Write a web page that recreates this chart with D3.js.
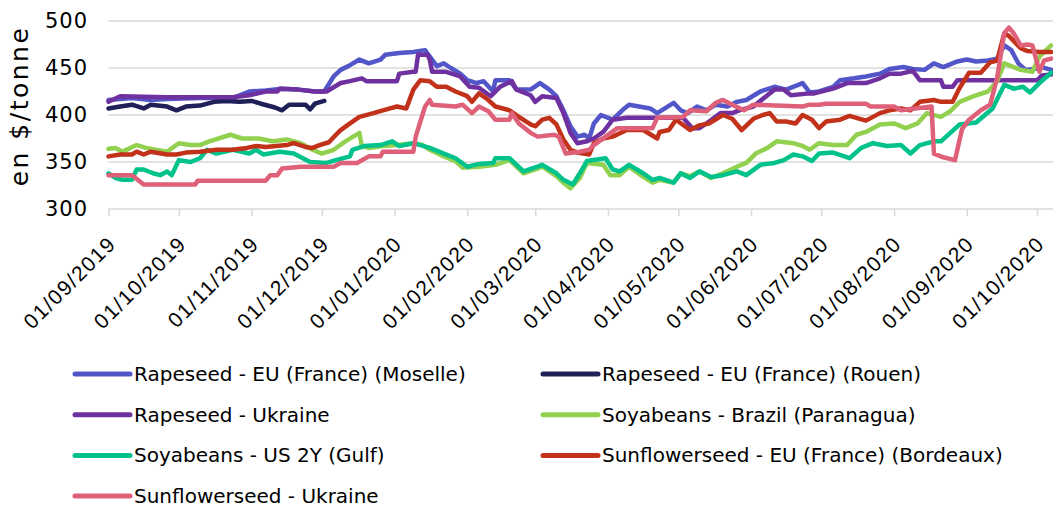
<!DOCTYPE html>
<html lang="fr">
<head>
  <meta charset="UTF-8">
  <title>Prix des oléagineux</title>
  <script src="https://d3js.org/d3.v7.min.js"></script>
  <style>
    body { margin: 0; background: #fff; }
    svg { display: block; font-family: "DejaVu Sans", sans-serif; }
    .grid line { stroke: #d9d9d9; stroke-width: 1.5px; }
    .serie { fill: none; stroke-width: 4.5px; stroke-linejoin: round; stroke-linecap: round; }
  </style>
</head>
<body>
  <div id="chart"></div>

  <script>
    // valeurs (en $/tonne)
    const moselle = [
      ["2019-09-01",416],["2019-09-11",418],["2019-09-19",416],["2019-09-26",417],["2019-10-10",418],
      ["2019-10-24",418],["2019-10-31",425],["2019-11-07",426],["2019-11-14",428],["2019-11-21",427],
      ["2019-11-28",425],["2019-12-02",425],["2019-12-06",441],["2019-12-09",448],["2019-12-13",453],
      ["2019-12-17",459],["2019-12-21",455],["2019-12-26",459],["2019-12-28",464],["2020-01-03",466],
      ["2020-01-09",467],["2020-01-14",469],["2020-01-16",462],["2020-01-19",452],["2020-01-22",455],
      ["2020-01-25",450],["2020-01-29",444],["2020-02-01",437],["2020-02-05",434],["2020-02-08",436],
      ["2020-02-12",425],["2020-02-13",437],["2020-02-19",437],["2020-02-22",427],["2020-02-28",427],
      ["2020-03-03",434],["2020-03-07",427],["2020-03-10",420],["2020-03-13",405],["2020-03-16",388],
      ["2020-03-19",377],["2020-03-22",379],["2020-03-24",375],["2020-03-26",391],["2020-03-29",400],
      ["2020-04-03",395],["2020-04-08",407],["2020-04-10",411],["2020-04-19",407],["2020-04-22",402],
      ["2020-04-29",413],["2020-05-02",405],["2020-05-05",402],["2020-05-09",409],["2020-05-13",405],
      ["2020-05-17",411],["2020-05-22",409],["2020-05-26",414],["2020-05-30",416],["2020-06-05",425],
      ["2020-06-11",430],["2020-06-16",427],["2020-06-23",434],["2020-06-26",424],["2020-06-30",425],
      ["2020-07-06",430],["2020-07-09",437],["2020-07-15",439],["2020-07-20",441],["2020-07-26",444],
      ["2020-07-30",449],["2020-08-05",451],["2020-08-09",449],["2020-08-14",448],["2020-08-18",455],
      ["2020-08-22",451],["2020-08-28",457],["2020-09-01",459],["2020-09-05",457],["2020-09-10",458],
      ["2020-09-14",460],["2020-09-17",474],["2020-09-20",469],["2020-09-23",455],["2020-09-26",448],
      ["2020-09-30",449],["2020-10-03",451],["2020-10-07",448]
    ];
    const rouen = [
      ["2019-09-01",407],["2019-09-06",409],["2019-09-11",411],["2019-09-16",407],["2019-09-19",411],
      ["2019-09-26",409],["2019-09-30",405],["2019-10-04",409],["2019-10-10",410],["2019-10-16",414],
      ["2019-10-21",415],["2019-10-27",414],["2019-11-01",415],["2019-11-05",412],["2019-11-11",408],
      ["2019-11-14",405],["2019-11-17",411],["2019-11-24",411],["2019-11-26",406],["2019-11-28",412],
      ["2019-12-02",415]
    ];
    const rapeUkraine = [
      ["2019-09-01",414],["2019-09-06",420],["2019-09-26",419],["2019-10-24",419],["2019-10-31",421],
      ["2019-11-07",425],["2019-11-12",425],["2019-11-13",428],["2019-11-21",427],["2019-11-28",425],
      ["2019-12-03",425],["2019-12-09",434],["2019-12-13",436],["2019-12-18",439],["2019-12-20",436],
      ["2020-01-02",436],["2020-01-03",444],["2020-01-09",446],["2020-01-10",446],["2020-01-11",464],
      ["2020-01-15",464],["2020-01-16",459],["2020-01-17",446],["2020-01-23",446],["2020-01-29",441],
      ["2020-02-02",430],["2020-02-06",429],["2020-02-11",420],["2020-02-15",430],["2020-02-20",436],
      ["2020-02-22",427],["2020-02-28",421],["2020-03-01",414],["2020-03-04",420],["2020-03-10",418],
      ["2020-03-13",402],["2020-03-16",381],["2020-03-19",370],["2020-03-23",372],["2020-03-26",375],
      ["2020-03-30",382],["2020-04-03",395],["2020-04-09",397],["2020-05-03",397],["2020-05-07",386],
      ["2020-05-10",386],["2020-05-13",391],["2020-05-19",402],["2020-05-24",402],["2020-05-27",405],
      ["2020-06-02",409],["2020-06-08",421],["2020-06-11",427],["2020-06-15",427],["2020-06-18",421],
      ["2020-06-26",423],["2020-06-28",423],["2020-07-06",428],["2020-07-12",434],["2020-07-20",434],
      ["2020-07-26",439],["2020-07-30",444],["2020-08-04",444],["2020-08-09",447],["2020-08-12",437],
      ["2020-08-21",437],["2020-08-22",430],["2020-08-26",430],["2020-08-28",437],["2020-10-01",437],
      ["2020-10-03",442],["2020-10-07",443]
    ];
    const soyBrazil = [
      ["2019-09-01",364],["2019-09-04",365],["2019-09-07",361],["2019-09-13",368],["2019-09-17",365],
      ["2019-09-21",363],["2019-09-26",361],["2019-10-01",370],["2019-10-06",368],["2019-10-10",368],
      ["2019-10-14",372],["2019-10-23",379],["2019-10-28",375],["2019-11-04",375],["2019-11-10",372],
      ["2019-11-16",374],["2019-11-22",370],["2019-11-27",363],["2019-12-01",359],["2019-12-06",363],
      ["2019-12-11",372],["2019-12-17",381],["2019-12-18",367],["2019-12-21",365],["2019-12-27",367],
      ["2020-01-02",368],["2020-01-09",370],["2020-01-13",368],["2020-01-16",363],["2020-01-22",356],
      ["2020-01-27",351],["2020-01-30",344],["2020-02-06",345],["2020-02-13",347],["2020-02-19",352],
      ["2020-02-25",338],["2020-03-02",343],["2020-03-04",345],["2020-03-10",335],["2020-03-13",328],
      ["2020-03-16",322],["2020-03-20",333],["2020-03-23",349],["2020-03-30",347],["2020-04-02",336],
      ["2020-04-06",336],["2020-04-10",345],["2020-04-15",336],["2020-04-20",328],["2020-04-23",331],
      ["2020-04-29",328],["2020-05-02",338],["2020-05-06",335],["2020-05-10",340],["2020-05-15",333],
      ["2020-05-20",338],["2020-05-26",345],["2020-05-30",349],["2020-06-03",359],["2020-06-08",365],
      ["2020-06-12",372],["2020-06-19",370],["2020-06-23",367],["2020-06-26",363],["2020-06-30",370],
      ["2020-07-06",368],["2020-07-12",368],["2020-07-16",379],["2020-07-20",382],["2020-07-26",390],
      ["2020-08-01",391],["2020-08-06",386],["2020-08-11",391],["2020-08-15",402],["2020-08-21",398],
      ["2020-08-25",404],["2020-08-29",414],["2020-09-04",420],["2020-09-10",425],["2020-09-14",436],
      ["2020-09-17",455],["2020-09-24",448],["2020-09-29",446],["2020-10-02",462],["2020-10-07",474]
    ];
    const soyUS = [
      ["2019-09-01",338],["2019-09-04",333],["2019-09-07",331],["2019-09-11",331],["2019-09-13",342],
      ["2019-09-16",342],["2019-09-20",338],["2019-09-23",336],["2019-09-26",340],["2019-09-28",336],
      ["2019-10-01",352],["2019-10-06",350],["2019-10-10",354],["2019-10-13",363],["2019-10-17",359],
      ["2019-10-24",363],["2019-10-31",359],["2019-11-03",363],["2019-11-06",358],["2019-11-13",361],
      ["2019-11-19",359],["2019-11-26",350],["2019-12-03",349],["2019-12-07",352],["2019-12-13",356],
      ["2019-12-14",363],["2019-12-19",367],["2019-12-26",368],["2019-12-31",372],["2020-01-03",367],
      ["2020-01-09",370],["2020-01-12",368],["2020-01-16",365],["2020-01-22",359],["2020-01-27",354],
      ["2020-02-01",345],["2020-02-06",348],["2020-02-12",349],["2020-02-13",354],["2020-02-19",354],
      ["2020-02-25",340],["2020-03-02",345],["2020-03-04",347],["2020-03-10",338],["2020-03-13",331],
      ["2020-03-17",326],["2020-03-20",338],["2020-03-23",351],["2020-03-31",354],["2020-04-03",342],
      ["2020-04-06",340],["2020-04-10",347],["2020-04-16",338],["2020-04-20",331],["2020-04-23",333],
      ["2020-04-29",328],["2020-05-02",338],["2020-05-06",333],["2020-05-10",340],["2020-05-15",334],
      ["2020-05-20",336],["2020-05-26",340],["2020-05-30",336],["2020-06-05",347],["2020-06-11",349],
      ["2020-06-15",352],["2020-06-19",358],["2020-06-23",356],["2020-06-27",351],["2020-06-30",359],
      ["2020-07-06",360],["2020-07-13",354],["2020-07-18",365],["2020-07-23",370],["2020-07-29",367],
      ["2020-08-04",368],["2020-08-08",359],["2020-08-12",368],["2020-08-18",372],["2020-08-21",372],
      ["2020-08-25",381],["2020-08-29",390],["2020-09-05",392],["2020-09-12",407],["2020-09-17",432],
      ["2020-09-21",428],["2020-09-25",430],["2020-09-28",424],["2020-10-02",434],["2020-10-07",445]
    ];
    const sunEU = [
      ["2019-09-01",356],["2019-09-06",358],["2019-09-11",358],["2019-09-13",361],["2019-09-16",358],
      ["2019-09-19",361],["2019-09-26",358],["2019-09-30",358],["2019-10-04",360],["2019-10-10",361],
      ["2019-10-17",363],["2019-10-24",363],["2019-10-30",365],["2019-11-03",367],["2019-11-07",366],
      ["2019-11-16",368],["2019-11-19",370],["2019-11-24",366],["2019-11-27",365],["2019-11-30",368],
      ["2019-12-04",371],["2019-12-07",379],["2019-12-09",384],["2019-12-13",391],["2019-12-17",398],
      ["2019-12-23",402],["2019-12-27",405],["2020-01-02",409],["2020-01-06",407],["2020-01-09",427],
      ["2020-01-12",437],["2020-01-16",436],["2020-01-19",430],["2020-01-23",430],["2020-01-27",425],
      ["2020-02-01",420],["2020-02-03",414],["2020-02-06",423],["2020-02-09",418],["2020-02-13",409],
      ["2020-02-19",405],["2020-02-23",398],["2020-02-28",390],["2020-03-01",388],["2020-03-04",395],
      ["2020-03-07",397],["2020-03-10",390],["2020-03-13",374],["2020-03-16",363],["2020-03-19",360],
      ["2020-03-24",358],["2020-03-26",370],["2020-03-30",375],["2020-04-03",377],["2020-04-09",384],
      ["2020-04-16",384],["2020-04-22",375],["2020-04-23",382],["2020-04-27",384],["2020-04-30",395],
      ["2020-05-06",384],["2020-05-10",389],["2020-05-14",391],["2020-05-20",400],["2020-05-24",396],
      ["2020-05-28",384],["2020-06-02",396],["2020-06-06",400],["2020-06-09",402],["2020-06-12",393],
      ["2020-06-16",393],["2020-06-20",391],["2020-06-23",400],["2020-06-27",395],["2020-06-30",386],
      ["2020-07-03",393],["2020-07-09",395],["2020-07-13",399],["2020-07-20",394],["2020-07-26",402],
      ["2020-07-30",405],["2020-08-04",407],["2020-08-08",405],["2020-08-12",414],["2020-08-18",416],
      ["2020-08-21",414],["2020-08-26",414],["2020-08-29",429],["2020-09-02",445],["2020-09-07",445],
      ["2020-09-11",456],["2020-09-14",458],["2020-09-17",487],["2020-09-19",484],["2020-09-24",471],
      ["2020-09-27",468],["2020-10-02",467],["2020-10-07",467]
    ];
    const sunUkraine = [
      ["2019-09-01",336],["2019-09-11",336],["2019-09-16",326],["2019-10-08",326],["2019-10-09",330],
      ["2019-11-07",330],["2019-11-09",336],["2019-11-12",336],["2019-11-14",343],["2019-11-22",345],
      ["2019-12-06",345],["2019-12-09",349],["2019-12-16",349],["2019-12-21",356],["2019-12-26",356],
      ["2019-12-27",361],["2020-01-09",361],["2020-01-10",377],["2020-01-14",409],["2020-01-16",416],
      ["2020-01-17",411],["2020-01-27",409],["2020-01-30",411],["2020-02-03",402],["2020-02-06",409],
      ["2020-02-10",404],["2020-02-13",395],["2020-02-19",395],["2020-02-20",402],["2020-02-23",391],
      ["2020-02-28",381],["2020-03-02",377],["2020-03-09",379],["2020-03-11",377],["2020-03-14",359],
      ["2020-03-20",361],["2020-03-24",363],["2020-03-26",368],["2020-03-31",377],["2020-04-05",386],
      ["2020-04-20",386],["2020-04-22",397],["2020-05-03",398],["2020-05-06",405],["2020-05-13",404],
      ["2020-05-17",413],["2020-05-20",416],["2020-05-24",411],["2020-05-29",405],["2020-06-02",411],
      ["2020-06-23",409],["2020-06-26",411],["2020-06-30",411],["2020-07-03",412],["2020-07-20",412],
      ["2020-07-22",409],["2020-08-01",409],["2020-08-04",405],["2020-08-17",409],["2020-08-18",359],
      ["2020-08-22",355],["2020-08-27",352],["2020-08-30",385],["2020-09-02",395],["2020-09-07",405],
      ["2020-09-11",411],["2020-09-14",440],["2020-09-17",487],["2020-09-19",493],["2020-09-21",487],
      ["2020-09-24",474],["2020-09-27",475],["2020-09-29",474],["2020-10-02",446],["2020-10-04",458],
      ["2020-10-07",460]
    ];

    const seriesNames = [
      "Rapeseed - EU (France) (Moselle)",
      "Rapeseed - EU (France) (Rouen)",
      "Rapeseed - Ukraine",
      "Soyabeans - Brazil (Paranagua)",
      "Soyabeans - US 2Y (Gulf)",
      "Sunflowerseed - EU (France) (Bordeaux)",
      "Sunflowerseed - Ukraine"
    ];
    const seriesValues = [moselle, rouen, rapeUkraine, soyBrazil, soyUS, sunEU, sunUkraine];
    const colors = ["#5356c8", "#1e2057", "#7031a0", "#92d050", "#00c28a", "#c2311a", "#de6179"];

    const monthTicks = [
      "01/09/2019", "01/10/2019", "01/11/2019", "01/12/2019", "01/01/2020", "01/02/2020", "01/03/2020",
      "01/04/2020", "01/05/2020", "01/06/2020", "01/07/2020", "01/08/2020", "01/09/2020", "01/10/2020"
    ];
    const yTicks = [300, 350, 400, 450, 500];

    const width = 1053, height = 508;
    const parseDay = d3.timeParse("%Y-%m-%d");
    const parseTick = d3.timeParse("%d/%m/%Y");

    const svg = d3.select("#chart").append("svg")
      .attr("width", width)
      .attr("height", height);

    const x = d3.scaleTime()
      .domain([parseDay("2019-09-01"), parseDay("2020-10-08")])
      .range([108.5, 1053.5]);

    const y = d3.scaleLinear()
      .domain([300, 500])
      .range([209, 21]);

    // grille horizontale
    svg.append("g")
      .attr("class", "grid")
      .selectAll("line")
      .data(yTicks)
      .enter()
      .append("line")
      .attr("x1", x.range()[0])
      .attr("x2", width)
      .attr("y1", d => y(d))
      .attr("y2", d => y(d));

    // axe des x : traits des mois
    const tickDates = monthTicks.map(parseTick);
    const xAxis = d3.axisBottom(x)
      .tickValues(tickDates)
      .tickSize(7)
      .tickFormat((d, i) => monthTicks[i]);

    const gx = svg.append("g")
      .attr("transform", `translate(0,${y(300)})`)
      .call(xAxis);
    gx.select(".domain").remove();
    gx.selectAll(".tick line").attr("stroke", "#d9d9d9").attr("stroke-width", 1.5);
    gx.selectAll(".tick text")
      .attr("fill", "#000")
      .style("font-size", "21px")
      .style("letter-spacing", "1.5px")
      .attr("text-anchor", "end")
      .attr("dy", "0.35em")
      .attr("y", 0)
      .attr("transform", "translate(3,31) rotate(-45)");

    // axe des y
    svg.append("g")
      .selectAll("text")
      .data(yTicks)
      .enter()
      .append("text")
      .attr("x", 88)
      .attr("y", d => y(d))
      .attr("dy", "0.35em")
      .attr("text-anchor", "end")
      .style("font-size", "21px")
      .style("letter-spacing", "1px")
      .text(d => d);

    svg.append("text")
      .attr("transform", "translate(28,106) rotate(-90)")
      .attr("text-anchor", "middle")
      .style("font-size", "25px")
      .style("letter-spacing", "2.5px")
      .text("en $/tonne");

    // courbes
    const line = d3.line()
      .x(d => x(parseDay(d[0])))
      .y(d => y(d[1]));

    svg.append("g")
      .selectAll("path")
      .data(seriesValues)
      .enter()
      .append("path")
      .attr("class", "serie")
      .attr("stroke", (d, i) => colors[i])
      .attr("d", line);

    // légende sur deux colonnes
    const legend = svg.append("g")
      .selectAll("g")
      .data(seriesNames)
      .enter()
      .append("g")
      .attr("transform", (d, i) => `translate(${i % 2 === 0 ? 75 : 543},${374 + Math.floor(i / 2) * 40.7})`);

    legend.append("line")
      .attr("x1", 0)
      .attr("x2", 55)
      .attr("stroke", (d, i) => colors[i])
      .attr("stroke-width", 5)
      .attr("stroke-linecap", "round");

    legend.append("text")
      .attr("x", 59)
      .attr("dy", "0.35em")
      .style("font-size", "20px")
      .text(d => d);
  </script>
</body>
</html>
